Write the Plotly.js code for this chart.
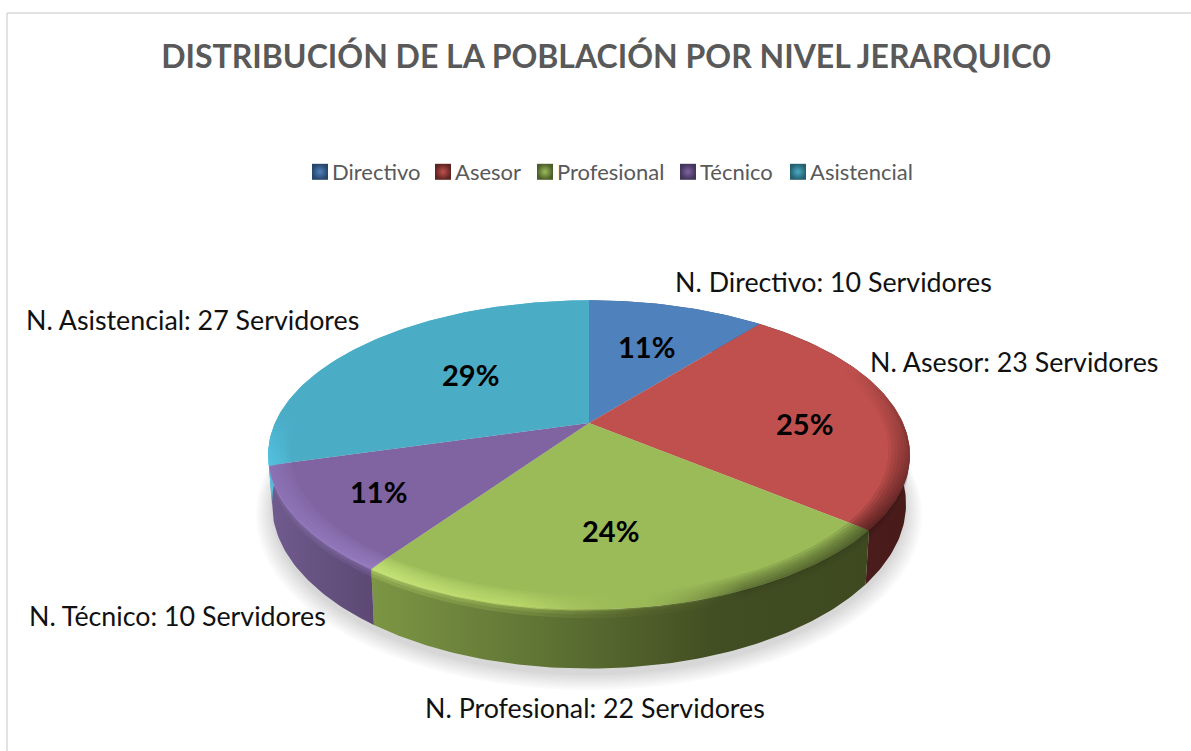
<!DOCTYPE html>
<html><head><meta charset="utf-8">
<script src="https://cdn.plot.ly/plotly-3.0.1.min.js"></script>
<style>html,body{margin:0;padding:0;background:#fff}</style></head>
<body><div id="chart" style="width:1191px;height:751px"></div>
<script>
// ---- data ----
const categories = ['Directivo','Asesor','Profesional','Técnico','Asistencial'];
const servidores = [10,23,22,10,27];
const chartTitle = 'DISTRIBUCIÓN DE LA POBLACIÓN POR NIVEL JERARQUIC0';

// ---- styles ----
const topColors  = ['#4f81bd','#c0504d','#9bbb59','#8064a2','#4bacc6'];
const legendDark = ['#26466c','#5e2422','#4c5e29','#43345a','#24606f'];
const wallStops  = [
  [[0,'#3a5f8c'],[1,'#3a5f8c']],
  [[0,'#521f1d'],[1,'#471b1a']],
  [[0,'#7c9644'],[0.35,'#5f7334'],[0.7,'#414d22'],[1,'#3e4920']],
  [[0,'#715b8f'],[0.5,'#655280'],[1,'#5c4873']],
  [[0,'#4fbfdc'],[1,'#4fbfdc']]
];
const bevelStyles = [
  null,
  {type:'vertical',  colorscale:[[0,'rgba(50,15,15,0.8)'],[0.45,'rgba(60,20,20,0.35)'],[0.8,'rgba(60,20,20,0)'],[1,'rgba(60,20,20,0)']]},
  {type:'horizontal',colorscale:[[0,'rgba(205,235,125,0.95)'],[0.3,'rgba(195,225,110,0.75)'],[0.55,'rgba(150,175,80,0.2)'],[0.75,'rgba(50,60,25,0.55)'],[1,'rgba(50,60,25,0.8)']]},
  {type:'horizontal',colorscale:[[0,'rgba(150,125,195,0.5)'],[1,'rgba(155,130,200,0.85)']]},
  {type:'vertical',  colorscale:[[0,'rgba(85,200,230,0.95)'],[0.3,'rgba(80,195,225,0)'],[1,'rgba(80,195,225,0)']]}
];

// ---- perspective disc geometry (pixels on the page) ----
const CX=589, CY=423, FX=314, FY=148, K=0.206, DEPTH=47, NEAR=0.988;
function rim(deg,r){
  const t=deg*Math.PI/180, u=r*Math.sin(t), v=-r*Math.cos(t), w=1-K*v;
  return {x:CX+FX*u/w, y:CY+FY*v/w, w};
}
function low(deg,r,d){
  const p=rim(deg,r), s=1-(1-NEAR)*d/DEPTH;
  return {x:CX+(p.x-CX)*s, y:p.y+d/p.w};
}
function arc(a,b,fn){
  const n=Math.max(2,Math.ceil(Math.abs(b-a))), o=[];
  for(let i=0;i<=n;i++) o.push(fn(a+(b-a)*i/n));
  return o;
}
function poly(pts,extra){
  return Object.assign({type:'scatter',mode:'lines',x:pts.map(p=>p.x),y:pts.map(p=>p.y),
    fill:'toself',line:{width:0},hoverinfo:'skip',showlegend:false},extra);
}

const total=servidores.reduce((a,b)=>a+b,0);
const cum=[0]; servidores.forEach(v=>cum.push(cum[cum.length-1]+v*360/total));

const traces=[];
// soft shadow
[1.05,1.043,1.036,1.029,1.022,1.015,1.008,1.002].forEach((r,n)=>{
  traces.push(poly(arc(0,360,a=>low(a,r,DEPTH+7-n*0.3)),{fillcolor:'rgba(0,0,0,0.018)'}));
});
// side walls
categories.forEach((c,i)=>{
  const a=cum[i], b=cum[i+1];
  traces.push(poly(arc(a,b,d=>rim(d,1)).concat(arc(b,a,d=>low(d,1,DEPTH))),
    {fillgradient:{type:'horizontal',colorscale:wallStops[i]}}));
});
// top faces
categories.forEach((c,i)=>{
  const a=cum[i], b=cum[i+1];
  traces.push(poly([{x:CX,y:CY}].concat(arc(a,b,d=>rim(d,1))),{fillcolor:topColors[i],name:c}));
});
// bevel along the rim
categories.forEach((c,i)=>{
  if(!bevelStyles[i]) return;
  const a=cum[i], b=cum[i+1];
  [0.935,0.945,0.955,0.965,0.975,0.985,0.993].forEach(r0=>{
    traces.push(poly(arc(a,b,d=>rim(d,r0)).concat(arc(b,a,d=>low(d,1,1))),
      {fillgradient:bevelStyles[i],opacity:0.2}));
  });
  [2,4,7].forEach(h=>{
    traces.push(poly(arc(a,b,d=>low(d,1,0)).concat(arc(b,a,d=>low(d,1,h))),
      {fillgradient:bevelStyles[i],opacity:0.22}));
  });
});
// legend entries
categories.forEach((c,i)=>{
  traces.push({type:'scatter',mode:'markers',x:[null],y:[null],name:c,showlegend:true,hoverinfo:'skip',
    marker:{symbol:'square',size:16,color:legendDark[i],gradient:{type:'radial',color:topColors[i]}}});
});

// ---- label text built from the data, placed by page pixels ----
const outerSpots=[[833,282],[1014,362],[595,708],[177,616],[192,320]];
const pctSpots=[[646,347],[804,424],[610,531],[378,492],[470,375]];
const legendLefts=[312,435,537,680,790];
const annotations=[];
categories.forEach((c,i)=>{
  annotations.push({x:outerSpots[i][0],y:outerSpots[i][1],xref:'x',yref:'y',showarrow:false,
    text:'N. '+c+': '+servidores[i]+' Servidores',font:{family:'Lato',size:26.8,color:'#111'}});
  annotations.push({x:pctSpots[i][0],y:pctSpots[i][1]-1,xref:'x',yref:'y',showarrow:false,
    text:'<b>'+Math.round(servidores[i]/total*100)+'%</b>',font:{family:'Lato',size:29,color:'#000'}});
});

const layout={
  width:1191,height:751,margin:{l:0,r:0,t:0,b:0},paper_bgcolor:'#fff',plot_bgcolor:'#fff',
  font:{family:'Lato'},
  title:{text:'<b>'+chartTitle+'</b>',x:606/1191,xanchor:'center',y:1-57/751,yanchor:'middle',
    font:{family:'Lato',size:32,color:'#595959'}},
  xaxis:{range:[0,1191],visible:false,fixedrange:true},
  yaxis:{range:[751,0],visible:false,fixedrange:true},
  showlegend:true,
  legend:{orientation:'h',x:300/1191,xanchor:'left',y:1-172/751,yanchor:'middle',
    font:{family:'Lato',size:22,color:'#595959'},bgcolor:'rgba(0,0,0,0)',itemclick:false,itemdoubleclick:false},
  shapes:[
    {type:'line',xref:'paper',yref:'paper',x0:7/1191,x1:1,y0:1-13/751,y1:1-13/751,line:{color:'#d9d9d9',width:1.5}},
    {type:'line',xref:'paper',yref:'paper',x0:7/1191,x1:7/1191,y0:1-13/751,y1:0,line:{color:'#d9d9d9',width:1.5}}
  ],
  annotations
};
Plotly.newPlot('chart',traces,layout,{displayModeBar:false}).then(gd=>{
  // tighten the legend to the reference's spacing (swatch sits next to its text)
  const items=gd.querySelectorAll('.legend .traces');
  items.forEach((g,i)=>{
    const m=/translate\(\s*[-\d.]+\s*,?\s*([-\d.]+)?/.exec(g.getAttribute('transform')||'');
    const y=m&&m[1]?m[1]:0;
    g.setAttribute('transform','translate('+(legendLefts[i]-12-300)+','+y+')');
    const t=g.querySelector('.legendtext'); if(t) t.setAttribute('x',32);
  });
});
</script></body></html>
